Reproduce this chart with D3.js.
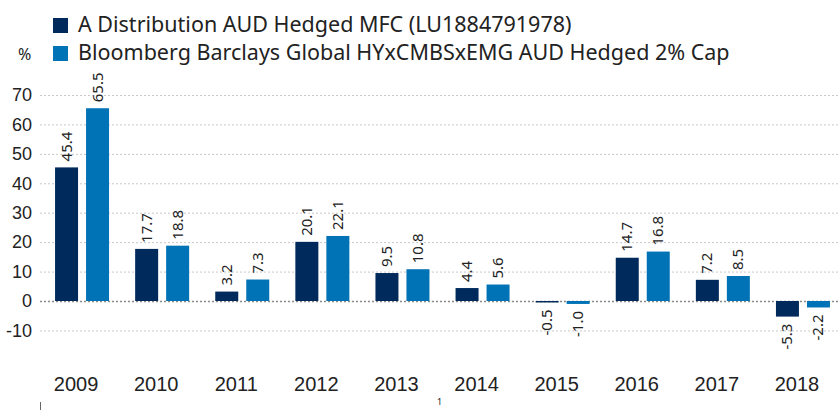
<!DOCTYPE html>
<html>
<head>
<meta charset="utf-8">
<script src="https://cdn.jsdelivr.net/npm/d3@7"></script>
<style>
  body { margin: 0; background: #fff; }
  svg { display: block; font-family: "Noto Sans", "Open Sans", sans-serif; }
  .grid line { stroke: #c8c8c8; stroke-dasharray: 2,2; }
  .grid text { fill: #222; font-size: 18px; }
  .x-axis text { fill: #222; font-size: 20px; }
  .val { fill: #222; font-size: 15px; }
</style>
</head>
<body>
<div id="chart"></div>
<script>
// data
const years = ["2009", "2010", "2011", "2012", "2013", "2014", "2015", "2016", "2017", "2018"];
const seriesNames = ["A Distribution AUD Hedged MFC (LU1884791978)", "Bloomberg Barclays Global HYxCMBSxEMG AUD Hedged 2% Cap"];
const fundValues = [45.4, 17.7, 3.2, 20.1, 9.5, 4.4, -0.5, 14.7, 7.2, -5.3];
const indexValues = [65.5, 18.8, 7.3, 22.1, 10.8, 5.6, -1.0, 16.8, 8.5, -2.2];
const yTicks = [-10, 0, 10, 20, 30, 40, 50, 60, 70];
const colors = ["#002a5c", "#0073b6"];

const width = 839, height = 410;

// plain hyphen for negatives, like the source
const fmt1 = v => v.toFixed(1);
const fmt0 = v => String(v);

const svg = d3.select("#chart").append("svg")
	.attr("width", width)
	.attr("height", height);

// scales
const x0 = d3.scaleBand()
	.domain(years)
	.range([42, 843])
	.padding(0);

const x1 = d3.scaleBand()
	.domain([0, 1])
	.range([0, x0.bandwidth()])
	.paddingInner(8 / 31)
	.paddingOuter(0.421);

const y = d3.scaleLinear()
	.domain([-20, 70])
	.range([301 + 20 * 206 / 70, 95]);

// y grid + labels
const yAxis = d3.axisLeft(y)
	.tickValues(yTicks)
	.tickSize(-(width - 40))
	.tickPadding(8)
	.tickFormat(fmt0);

const grid = svg.append("g")
	.attr("class", "grid")
	.attr("transform", "translate(40,0)")
	.call(yAxis);
grid.select(".domain").remove();
grid.selectAll(".tick line")
	.filter(d => d === 0)
	.style("stroke", "#8a8a8a")
	.style("stroke-dasharray", null)
	.style("stroke-width", 1.5);

// x axis labels
const xAxis = d3.axisBottom(x0).tickSize(0).tickPadding(0);
const xg = svg.append("g")
	.attr("class", "x-axis")
	.attr("transform", "translate(-6,377)")
	.call(xAxis);
xg.select(".domain").remove();

// bars
const rows = years.map((yr, i) => ({ year: yr, values: [fundValues[i], indexValues[i]] }));

const groups = svg.append("g").selectAll("g")
	.data(rows)
	.join("g")
	.attr("transform", d => "translate(" + x0(d.year) + ",0)");

const bars = groups.selectAll("g")
	.data(d => d.values.map((v, k) => ({ k: k, v: v })))
	.join("g");

bars.append("rect")
	.attr("x", d => x1(d.k))
	.attr("width", x1.bandwidth())
	.attr("y", d => y(Math.max(0, d.v)))
	.attr("height", d => Math.abs(y(d.v) - y(0)))
	.attr("fill", d => colors[d.k]);

bars.append("text")
	.attr("class", "val")
	.attr("transform", d => {
		let cx = x1(d.k) + x1.bandwidth() / 2 + 5;
		let cy = d.v >= 0 ? y(d.v) - 6 : y(d.v) + 7;
		return "translate(" + cx + "," + cy + ") rotate(-90)";
	})
	.attr("text-anchor", d => d.v >= 0 ? "start" : "end")
	.text(d => fmt1(d.v));

// legend
const legend = svg.append("g");
seriesNames.forEach((name, i) => {
	legend.append("rect")
		.attr("x", 53)
		.attr("y", 18 + i * 28)
		.attr("width", 15)
		.attr("height", 15)
		.attr("fill", colors[i]);
	legend.append("text")
		.attr("x", 78)
		.attr("y", 32 + i * 28)
		.attr("font-size", 21.5)
		.attr("fill", "#222")
		.text(name);
});

svg.append("text")
	.attr("x", 18)
	.attr("y", 60)
	.attr("font-size", 16)
	.attr("fill", "#222")
	.text("%");

// bits at the bottom edge
svg.append("line")
	.attr("x1", 40.5).attr("x2", 40.5)
	.attr("y1", 402).attr("y2", 410)
	.attr("stroke", "#666");
svg.append("text")
	.attr("x", 437)
	.attr("y", 405)
	.attr("font-size", 9)
	.attr("fill", "#222")
	.text("1");
</script>
</body>
</html>
